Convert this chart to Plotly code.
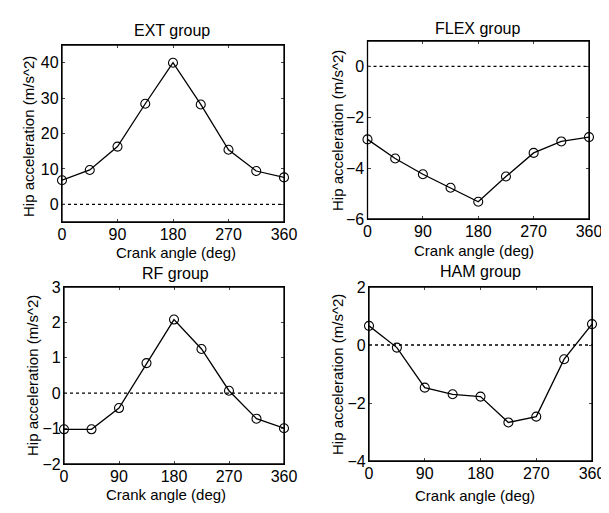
import plotly.graph_objects as go

angles = [0, 45, 90, 135, 180, 225, 270, 315, 360]
ext_vals = [6.8, 9.7, 16.3, 28.4, 40.0, 28.2, 15.4, 9.4, 7.6]
flex_vals = [-2.87, -3.62, -4.24, -4.77, -5.32, -4.33, -3.40, -2.95, -2.78]
rf_vals = [-1.02, -1.02, -0.42, 0.85, 2.08, 1.25, 0.07, -0.72, -0.99]
ham_vals = [0.66, -0.09, -1.47, -1.70, -1.78, -2.67, -2.47, -0.49, 0.72]

titles = ["EXT group", "FLEX group", "RF group", "HAM group"]
series = [ext_vals, flex_vals, rf_vals, ham_vals]
yranges = [[-5, 45], [-6, 1], [-2, 3], [-4, 2]]
ydticks = [10, 2, 1, 2]
xticks = [0, 90, 180, 270, 360]
xtitle = "Crank angle (deg)"
ytitle = "Hip acceleration (m/s^2)"

# page body has an 8px margin: lay out in window pixels, shift by OFF
OFF = 8
W, H = 609 - OFF, 513 - OFF
# panel boxes in window pixels: left, right, top, bottom
boxes = [(62, 284, 45, 222), (367.5, 589, 41, 219), (64, 284, 287, 464), (369, 592, 287, 461)]
title_pos = [(172, 30), (477, 28), (176, 273), (480, 271)]
xt_pos = [(176, 252), (474, 250), (166, 494), (475, 495)]
yt_pos = [(28, 137), (337, 131), (32, 376), (337, 375)]


def px(x):
    return (x - OFF) / W


def py(y):
    return 1 - (y - OFF) / H


FONT = "Liberation Sans, Arial, Helvetica, sans-serif"
fig = go.Figure()
annotations = []
shapes = []
for i in range(4):
    l, r, t, b = boxes[i]
    xa = "xaxis" if i == 0 else f"xaxis{i+1}"
    ya = "yaxis" if i == 0 else f"yaxis{i+1}"
    xr = "x" if i == 0 else f"x{i+1}"
    yr = "y" if i == 0 else f"y{i+1}"
    fig.add_trace(go.Scatter(
        x=angles, y=series[i], mode="lines+markers", xaxis=xr, yaxis=yr,
        line=dict(color="black", width=1.3),
        marker=dict(symbol="circle-open", size=9, color="black", line=dict(width=1.1)),
        showlegend=False, cliponaxis=False))
    shapes.append(dict(type="line", xref=f"{xr} domain", yref=yr, x0=0, x1=1, y0=0, y1=0,
                       line=dict(color="black", width=1.3, dash="dot"), layer="below"))
    shapes.append(dict(type="rect", xref="paper", yref="paper",
                       x0=px(l), x1=px(r), y0=py(b), y1=py(t),
                       line=dict(color="black", width=1.3), layer="above"))
    fig.layout[xa] = dict(domain=[px(l), px(r)], anchor=yr, range=[0, 360],
                          tickvals=xticks, ticks="inside", ticklen=3, showline=True,
                          linecolor="black", linewidth=1.3, mirror="ticks", showgrid=False,
                          zeroline=False, automargin=False, ticklabelstandoff=-2,
                          tickfont=dict(size=16, color="black", family=FONT))
    fig.layout[ya] = dict(domain=[py(b), py(t)], anchor=xr, range=yranges[i],
                          dtick=ydticks[i], ticks="inside", ticklen=3, showline=True,
                          linecolor="black", linewidth=1.3, mirror="ticks", showgrid=False,
                          zeroline=False, automargin=False, ticklabelstandoff=-1,
                          tickfont=dict(size=16, color="black", family=FONT))
    annotations.append(dict(text=titles[i], x=px(title_pos[i][0]), y=py(title_pos[i][1]),
                            xref="paper", yref="paper", showarrow=False, xanchor="center",
                            yanchor="middle", font=dict(size=16, color="black", family=FONT)))
    annotations.append(dict(text=xtitle, x=px(xt_pos[i][0]), y=py(xt_pos[i][1]),
                            xref="paper", yref="paper", showarrow=False, xanchor="center",
                            yanchor="middle", font=dict(size=15, color="black", family=FONT)))
    annotations.append(dict(text=ytitle, x=px(yt_pos[i][0]), y=py(yt_pos[i][1]),
                            xref="paper", yref="paper", showarrow=False, xanchor="center",
                            yanchor="middle", textangle=-90,
                            font=dict(size=15, color="black", family=FONT)))

fig.update_layout(template="none", width=W, height=H, margin=dict(l=0, r=0, t=0, b=0, pad=0),
                  paper_bgcolor="white", plot_bgcolor="white",
                  annotations=annotations, shapes=shapes)
fig.write_html("out.html")
